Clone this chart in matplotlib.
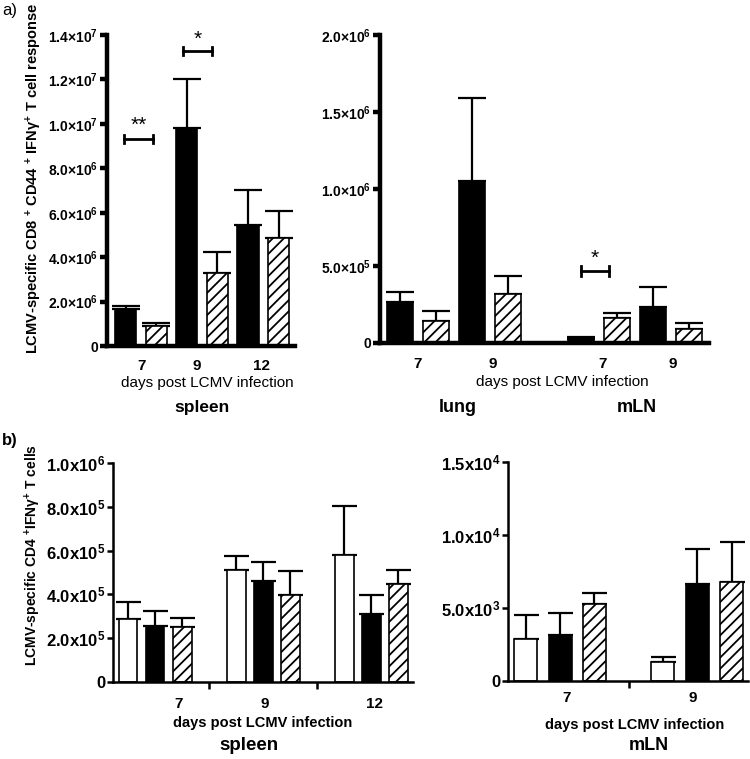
import numpy as np
import matplotlib
matplotlib.use('Agg')
import matplotlib.pyplot as plt

plt.rcParams['font.family'] = ['Liberation Sans', 'DejaVu Sans']
plt.rcParams['mathtext.fontset'] = 'custom'
plt.rcParams['mathtext.rm'] = 'Liberation Sans:bold'
plt.rcParams['mathtext.bf'] = 'Liberation Sans:bold'
plt.rcParams['mathtext.default'] = 'rm'
plt.rcParams['hatch.linewidth'] = 1.3

# a) CD8 response, spleen
a_spl_days = ['7', '9', '12']
a_spl_black = [1.65e6, 9.8e6, 5.45e6]
a_spl_black_err = [0.16e6, 2.22e6, 1.57e6]
a_spl_hatch = [0.9e6, 3.27e6, 4.85e6]
a_spl_hatch_err = [0.15e6, 0.95e6, 1.21e6]
a_spl_ticks = ['0', '2.0×10$^{6}$', '4.0×10$^{6}$', '6.0×10$^{6}$', '8.0×10$^{6}$',
               '1.0×10$^{7}$', '1.2×10$^{7}$', '1.4×10$^{7}$']

# a) lung + mLN
a_org_days = ['7', '9', '7', '9']
a_org_black = [2.64e5, 1.05e6, 2.8e4, 2.36e5]
a_org_black_err = [0.67e5, 0.54e6, 0.9e4, 1.26e5]
a_org_hatch = [1.45e5, 3.18e5, 1.6e5, 0.93e5]
a_org_hatch_err = [0.63e5, 1.19e5, 0.33e5, 0.35e5]
a_org_ticks = ['0', '5.0×10$^{5}$', '1.0×10$^{6}$', '1.5×10$^{6}$', '2.0×10$^{6}$']

# b) CD4 response, spleen
b_spl_days = ['7', '9', '12']
b_spl_white = [2.87e5, 5.12e5, 5.79e5]
b_spl_white_err = [0.77e5, 0.65e5, 2.27e5]
b_spl_black = [2.57e5, 4.61e5, 3.1e5]
b_spl_black_err = [0.67e5, 0.89e5, 0.87e5]
b_spl_hatch = [2.49e5, 3.96e5, 4.46e5]
b_spl_hatch_err = [0.41e5, 1.13e5, 0.66e5]
b_spl_ticks = ['0', '2.0x10$^{5}$', '4.0x10$^{5}$', '6.0x10$^{5}$', '8.0x10$^{5}$', '1.0x10$^{6}$']

# b) mLN
b_mln_days = ['7', '9']
b_mln_white = [2.86e3, 1.33e3]
b_mln_white_err = [1.69e3, 0.32e3]
b_mln_black = [3.18e3, 6.63e3]
b_mln_black_err = [1.46e3, 2.4e3]
b_mln_hatch = [5.26e3, 6.81e3]
b_mln_hatch_err = [0.8e3, 2.7e3]
b_mln_ticks = ['0', '5.0x10$^{3}$', '1.0x10$^{4}$', '1.5x10$^{4}$']

W, H = 750, 759


def px(x, y):
    return x / W, 1 - y / H


def style_axes(ax, lw, fs, tlen):
    for s in ['top', 'right']:
        ax.spines[s].set_visible(False)
    for s in ['left', 'bottom']:
        ax.spines[s].set_linewidth(lw)
    ax.tick_params(axis='y', width=lw, length=tlen, labelsize=fs, pad=1.5)
    ax.tick_params(axis='x', length=0)
    for t in ax.get_yticklabels():
        t.set_fontweight('bold')


def bars(ax, pos, vals, errs, kind, width, lw=1.2, capsize=10):
    if kind == 'black':
        ax.bar(pos, vals, width, color='black', edgecolor='black', linewidth=lw, zorder=2)
    elif kind == 'white':
        ax.bar(pos, vals, width, color='white', edgecolor='black', linewidth=lw, zorder=2)
    else:
        ax.bar(pos, vals, width, color='white', edgecolor='black', hatch='///', linewidth=lw, zorder=2)
    ax.errorbar(pos, vals, yerr=[np.zeros(len(vals)), errs], fmt='none', ecolor='black',
                elinewidth=1.6, capsize=capsize, capthick=1.6, zorder=1)


def bracket(ax, x0, x1, y, h, text, ty):
    ax.plot([x0, x1], [y, y], color='black', lw=2, zorder=3, clip_on=False)
    ax.plot([x0, x0], [y - h, y + h], color='black', lw=2, zorder=3, clip_on=False)
    ax.plot([x1, x1], [y - h, y + h], color='black', lw=2, zorder=3, clip_on=False)
    ax.text((x0 + x1) / 2, ty, text, ha='center', va='center', fontsize=15, zorder=3)


fig = plt.figure(figsize=(7.5, 7.59), dpi=100)

# ---------- a) spleen ----------
ax1 = fig.add_axes([107 / W, 1 - 346 / H, 188 / W, 311 / H])
pos = np.arange(6)
bars(ax1, pos[0::2], a_spl_black, a_spl_black_err, 'black', 0.69)
bars(ax1, pos[1::2], a_spl_hatch, a_spl_hatch_err, 'hatch', 0.69)
ax1.set_xlim(-0.62, 5.54)
ax1.set_ylim(0, 1.4e7)
ax1.set_yticks(np.arange(0, 1.41e7, 2e6))
ax1.set_yticklabels(a_spl_ticks)
ax1.set_xticks([0.52, 2.33, 4.43])
ax1.set_xticklabels(a_spl_days, fontsize=11, fontweight='bold')
ax1.tick_params(axis='x', pad=9)
style_axes(ax1, 3.2, 10, 5)
bracket(ax1, -0.07, 0.89, 9.32e6, 0.2e6, '**', 9.95e6)
bracket(ax1, 1.87, 2.82, 1.328e7, 0.2e6, '*', 1.38e7)

# ---------- a) lung / mLN ----------
ax2 = fig.add_axes([380 / W, 1 - 343 / H, 329 / W, 308 / H])
pos_b = np.array([0, 2, 5, 7])
bars(ax2, pos_b, a_org_black, a_org_black_err, 'black', 0.72)
bars(ax2, pos_b + 1, a_org_hatch, a_org_hatch_err, 'hatch', 0.72)
ax2.set_xlim(-0.56, 8.56)
ax2.set_ylim(0, 2.0e6)
ax2.set_yticks(np.arange(0, 2.01e6, 5e5))
ax2.set_yticklabels(a_org_ticks)
ax2.set_xticks([0.47, 2.56, 5.62, 7.56])
ax2.set_xticklabels(a_org_days, fontsize=11, fontweight='bold')
ax2.tick_params(axis='x', pad=10)
style_axes(ax2, 3.2, 10, 5)
bracket(ax2, 5.0, 5.8, 4.68e5, 0.3e5, '*', 5.5e5)

# ---------- b) spleen ----------
ax3 = fig.add_axes([113 / W, 1 - 681.7 / H, 300 / W, 218.4 / H])
g = np.array([0, 4, 8])
bars(ax3, g, b_spl_white, b_spl_white_err, 'white', 0.69, capsize=9)
bars(ax3, g + 1, b_spl_black, b_spl_black_err, 'black', 0.69, capsize=9)
bars(ax3, g + 2, b_spl_hatch, b_spl_hatch_err, 'hatch', 0.69, capsize=9)
ax3.set_xlim(-0.56, 10.54)
ax3.set_ylim(0, 1.0e6)
ax3.set_yticks(np.arange(0, 1.01e6, 2e5))
ax3.set_yticklabels(b_spl_ticks)
ax3.set_xticks([1.85, 5.04, 9.11])
ax3.set_xticklabels(b_spl_days, fontsize=11, fontweight='bold')
ax3.set_xticks([3, 7], minor=True)
style_axes(ax3, 1.8, 12, 4)
ax3.tick_params(axis='x', pad=11)
ax3.tick_params(axis='x', which='minor', length=5, width=1.8)

# ---------- b) mLN ----------
ax4 = fig.add_axes([508 / W, 1 - 681 / H, 240 / W, 218.7 / H])
g = np.array([0, 4])
bars(ax4, g, b_mln_white, b_mln_white_err, 'white', 0.67, capsize=9)
bars(ax4, g + 1, b_mln_black, b_mln_black_err, 'black', 0.67, capsize=9)
bars(ax4, g + 2, b_mln_hatch, b_mln_hatch_err, 'hatch', 0.67, capsize=9)
ax4.set_xlim(-0.52, 6.48)
ax4.set_ylim(0, 1.5e4)
ax4.set_yticks(np.arange(0, 1.51e4, 5e3))
ax4.set_yticklabels(b_mln_ticks)
ax4.set_xticks([1.2, 4.87])
ax4.set_xticklabels(b_mln_days, fontsize=11, fontweight='bold')
ax4.set_xticks([3], minor=True)
style_axes(ax4, 1.8, 12, 4)
ax4.tick_params(axis='x', pad=7)
ax4.tick_params(axis='x', which='minor', length=5, width=1.8)

# ---------- labels ----------
fig.text(*px(2, 11), 'a)', fontsize=12, ha='left', va='center')
fig.text(*px(2, 441), 'b)', fontsize=12, fontweight='bold', ha='left', va='center')

fig.text(*px(34, 178), 'LCMV-specific CD8 $^{+}$ CD44 $^{+}$ IFNγ$^{+}$ T cell response',
         rotation=90, fontsize=10.5, fontweight='bold', ha='center', va='center')
fig.text(*px(33, 555), 'LCMV-specific CD4 $^{+}$IFNγ$^{+}$ T cells',
         rotation=90, fontsize=10, fontweight='bold', ha='center', va='center')

fig.text(*px(207, 383), 'days post LCMV infection', fontsize=11, ha='center', va='center')
fig.text(*px(202, 407), 'spleen', fontsize=12.5, fontweight='bold', ha='center', va='center')
fig.text(*px(562, 382), 'days post LCMV infection', fontsize=11, ha='center', va='center')
fig.text(*px(458, 407), 'lung', fontsize=13, fontweight='bold', ha='center', va='center')
fig.text(*px(637, 407), 'mLN', fontsize=13, fontweight='bold', ha='center', va='center')

fig.text(*px(263, 723), 'days post LCMV infection', fontsize=10.5, fontweight='bold', ha='center', va='center')
fig.text(*px(249, 745), 'spleen', fontsize=13.5, fontweight='bold', ha='center', va='center')
fig.text(*px(635, 725), 'days post LCMV infection', fontsize=10.5, fontweight='bold', ha='center', va='center')
fig.text(*px(649, 745), 'mLN', fontsize=13, fontweight='bold', ha='center', va='center')

fig.savefig('out.png', dpi=100)
